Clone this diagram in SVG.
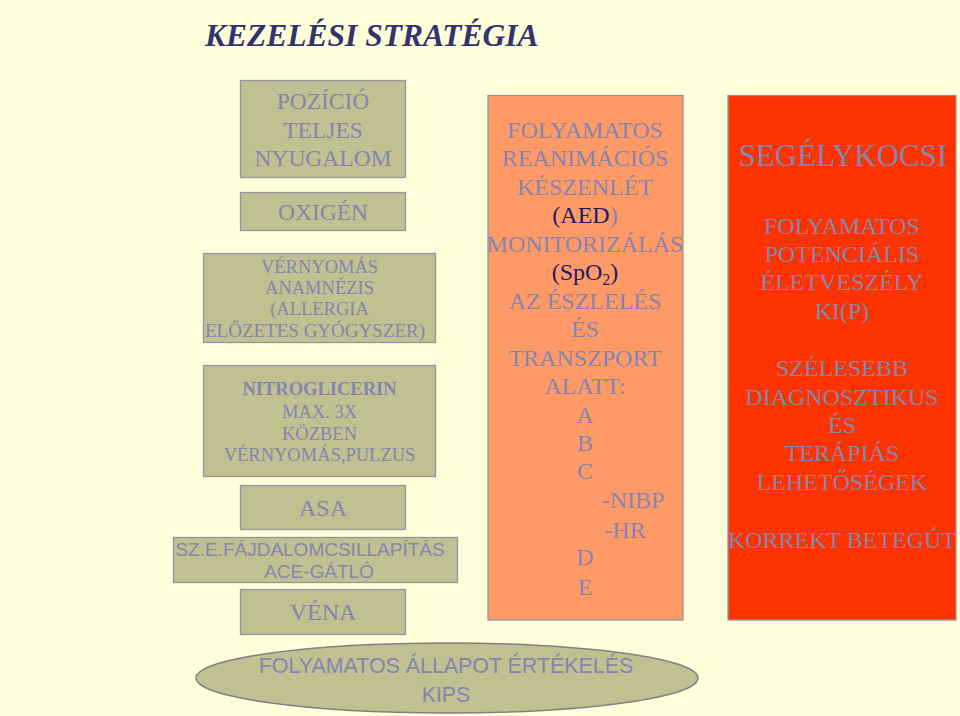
<svg xmlns="http://www.w3.org/2000/svg" width="960" height="716" viewBox="0 0 960 716">
<style>
.bg{fill:#FFFFD9}
.box{fill:#C0C090;stroke:#9494A4;stroke-width:1.3}
.orange{fill:#FF9966;stroke:#9494A4;stroke-width:1.3}
.red{fill:#FF3300;stroke:#9494A4;stroke-width:1.3}
.t{font-family:"Liberation Serif","Times New Roman",serif;fill:#8585B0;text-anchor:middle}
.s{font-family:"Liberation Sans",Arial,sans-serif;fill:#8585B0;text-anchor:middle}
.dk{fill:#1C1C6B}
.title{font-family:"Liberation Serif","Times New Roman",serif;font-weight:bold;font-style:italic;font-size:31.5px;fill:#333371}
</style>
<rect class="bg" x="0" y="0" width="960" height="716"/>
<text class="title" x="205" y="46">KEZELÉSI STRATÉGIA</text>

<g id="pozicio">
<rect class="box" x="240.5" y="80.5" width="165" height="97"/>
<text class="t" font-size="23.5" x="323" y="109">POZÍCIÓ</text>
<text class="t" font-size="23.5" x="323" y="138">TELJES</text>
<text class="t" font-size="23.5" x="323" y="166">NYUGALOM</text>
</g>
<g id="oxigen">
<rect class="box" x="240.5" y="192.5" width="165" height="38"/>
<text class="t" font-size="23.5" x="323" y="220">OXIGÉN</text>
</g>
<g id="vernyomas">
<rect class="box" x="203.5" y="253.5" width="232" height="89"/>
<text class="t" font-size="18.5" x="319.5" y="273">VÉRNYOMÁS</text>
<text class="t" font-size="18.5" x="319.5" y="294">ANAMNÉZIS</text>
<text class="t" font-size="18.5" x="319.5" y="315">(ALLERGIA</text>
<text class="t" font-size="19" x="315" y="337">ELŐZETES GYÓGYSZER)</text>
</g>
<g id="nitro">
<rect class="box" x="203.5" y="365.5" width="232" height="111"/>
<text class="t" font-size="18.5" font-weight="bold" x="319.5" y="395">NITROGLICERIN</text>
<text class="t" font-size="18.5" x="319.5" y="418">MAX. 3X</text>
<text class="t" font-size="18.5" x="319.5" y="440">KÖZBEN</text>
<text class="t" font-size="18.5" x="319.5" y="461">VÉRNYOMÁS,PULZUS</text>
</g>
<g id="asa">
<rect class="box" x="240.5" y="485.5" width="165" height="44"/>
<text class="t" font-size="24" x="323" y="516">ASA</text>
</g>
<g id="fajdalom">
<rect class="box" x="173.5" y="537.5" width="284" height="45"/>
<text class="s" font-size="19" x="310" y="556">SZ.E.FÁJDALOMCSILLAPÍTÁS</text>
<text class="s" font-size="19" x="319" y="578">ACE-GÁTLÓ</text>
</g>
<g id="vena">
<rect class="box" x="240.5" y="589.5" width="165" height="45"/>
<text class="t" font-size="24" x="323" y="620">VÉNA</text>
</g>

<g id="reanimacio">
<rect class="orange" x="488" y="95.5" width="195" height="524.5"/>
<text class="t" font-size="24" x="585" y="138">FOLYAMATOS</text>
<text class="t" font-size="24" x="585" y="166">REANIMÁCIÓS</text>
<text class="t" font-size="24" x="585" y="195">KÉSZENLÉT</text>
<text class="t" font-size="24" x="585" y="223"><tspan class="dk">(AED</tspan>)</text>
<text class="t" font-size="24" x="585" y="252">MONITORIZÁLÁS</text>
<text class="t" font-size="24" x="585" y="280"><tspan class="dk">(SpO</tspan><tspan class="dk" font-size="16" dy="5">2</tspan><tspan class="dk" dy="-5">)</tspan></text>
<text class="t" font-size="24" x="585" y="309">AZ ÉSZLELÉS</text>
<text class="t" font-size="24" x="585" y="337">ÉS</text>
<text class="t" font-size="24" x="585" y="366">TRANSZPORT</text>
<text class="t" font-size="24" x="585" y="394">ALATT:</text>
<text class="t" font-size="24" x="585" y="423">A</text>
<text class="t" font-size="24" x="585" y="451">B</text>
<text class="t" font-size="24" x="585" y="479">C</text>
<text class="t" font-size="24" x="633" y="508">-NIBP</text>
<text class="t" font-size="24" x="625" y="538">-HR</text>
<text class="t" font-size="24" x="585" y="565">D</text>
<text class="t" font-size="24" x="585" y="595">E</text>
</g>

<g id="segelykocsi">
<rect class="red" x="728" y="95.5" width="228" height="524.5"/>
<text class="t" font-size="31" x="843" y="166">SEGÉLYKOCSI</text>
<text class="t" font-size="24" x="842" y="234">FOLYAMATOS</text>
<text class="t" font-size="24" x="842" y="262">POTENCIÁLIS</text>
<text class="t" font-size="24" x="842" y="290">ÉLETVESZÉLY</text>
<text class="t" font-size="24" x="842" y="319">KI(P)</text>
<text class="t" font-size="24" x="842" y="376">SZÉLESEBB</text>
<text class="t" font-size="24" x="842" y="405">DIAGNOSZTIKUS</text>
<text class="t" font-size="24" x="842" y="433">ÉS</text>
<text class="t" font-size="24" x="842" y="461">TERÁPIÁS</text>
<text class="t" font-size="24" x="842" y="490">LEHETŐSÉGEK</text>
<text class="t" font-size="24" x="842" y="548">KORREKT BETEGÚT</text>
</g>

<g id="allapot">
<ellipse cx="447" cy="678" rx="251" ry="35" fill="#C0C090" stroke="#808088" stroke-width="1.5"/>
<text class="s" font-size="21.4" x="446" y="673">FOLYAMATOS ÁLLAPOT ÉRTÉKELÉS</text>
<text class="s" font-size="21.4" x="446" y="702">KIPS</text>
</g>

<g id="connectors"></g>
</svg>
